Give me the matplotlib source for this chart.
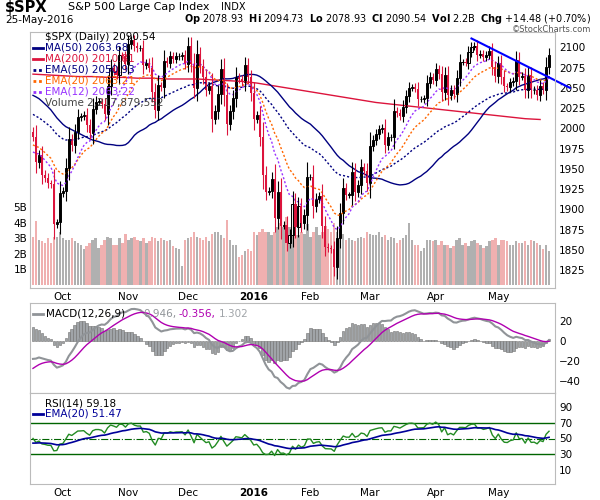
import numpy as np
import matplotlib
matplotlib.use("Agg")
import matplotlib.pyplot as plt

# warm-up closes (Jul 1 - Sep 16 2015), used only to seed the averages
warmup = [2077, 2077, 2068, 2082, 2047, 2052, 2077, 2100, 2109, 2107, 2124, 2127, 2129, 2120, 2115, 2102, 2080,
          2068, 2093, 2109, 2109, 2104,
          2098, 2094, 2100, 2084, 2078, 2104, 2084, 2086, 2083, 2092, 2102, 2096, 2080, 2036, 1971, 1893, 1868,
          1940, 1988, 1989, 1972,
          1914, 1948, 1951, 1921, 1970, 1942, 1952, 1961, 1953, 1979, 1996]

# visible closes, Sep 17 2015 - May 25 2016
closes = [1990, 1958, 1967, 1943, 1939, 1932, 1931, 1882, 1884, 1920,
          1923, 1951, 1987, 1979, 1996, 2014, 2015, 2017, 2004, 1994, 2024, 2033, 2033, 2030, 2018, 2052, 2075,
          2071, 2066, 2090, 2089, 2079,
          2104, 2109, 2102, 2099, 2099, 2078, 2081, 2075, 2045, 2023, 2053, 2051, 2083, 2081, 2089, 2086, 2089,
          2089, 2090, 2080,
          2102, 2080, 2050, 2092, 2077, 2063, 2048, 2052, 2012, 2022, 2043, 2073, 2041, 2006, 2021, 2038, 2064,
          2061, 2057, 2078, 2063, 2044,
          2012, 2016, 1990, 1943, 1922, 1923, 1938, 1890, 1922, 1880, 1881, 1859, 1869, 1907, 1878, 1904, 1883,
          1893, 1940,
          1940, 1904, 1913, 1916, 1880, 1854, 1852, 1851, 1829, 1865, 1895, 1926, 1918, 1918, 1946, 1922, 1930,
          1952, 1948, 1932,
          1978, 1986, 1993, 1999, 2001, 1980, 1989, 1989, 2022, 2019, 2015, 2027, 2040, 2050, 2051, 2049, 2036,
          2036, 2037, 2056, 2063, 2060,
          2073, 2067, 2045, 2066, 2041, 2048, 2042, 2062, 2082, 2082, 2081, 2094, 2101, 2102, 2091, 2092, 2088,
          2091, 2096, 2076, 2065,
          2081, 2064, 2052, 2051, 2057, 2059, 2084, 2064, 2065, 2047, 2066, 2047, 2048, 2041, 2052, 2048, 2076,
          2090.54]

# daily volume, billions
volume = [3.1, 4.1, 2.9, 2.8, 2.7, 3.0, 2.7, 3.1, 3.1, 3.4,
          3.0, 2.9, 2.9, 3.0, 2.8, 2.7, 2.6, 2.3, 2.5, 2.7, 2.9, 3.0, 2.4, 2.6, 2.9, 3.1, 3.0,
          2.6, 2.6, 3.0, 2.7, 3.3,
          2.9, 3.0, 3.1, 2.9, 2.8, 3.0, 2.7, 2.8, 3.1, 3.0, 2.8, 3.0, 2.9, 2.8, 2.9, 2.5, 2.4,
          2.3, 1.2, 2.9,
          3.0, 3.1, 3.4, 3.1, 3.0, 2.9, 3.1, 2.8, 3.3, 3.4, 3.4, 3.2, 3.0, 4.2, 2.9, 2.6, 2.6,
          1.8, 1.9, 2.2, 2.3, 2.2,
          3.4, 3.2, 3.4, 3.6, 3.4, 3.4, 3.2, 3.4, 3.7, 4.0, 3.7, 4.4, 3.7, 3.5, 3.2, 3.2, 3.4,
          3.3, 3.9,
          3.1, 3.4, 3.7, 3.2, 3.4, 3.8, 3.6, 3.4, 4.0, 3.4, 3.2, 3.3, 2.9, 3.0, 2.9, 2.8, 3.0,
          3.1, 3.0, 3.4,
          3.3, 3.2, 3.2, 3.4, 3.1, 3.2, 2.9, 3.1, 3.0, 2.7, 2.9, 3.0, 3.2, 4.0, 2.9, 2.6, 2.6,
          2.2, 2.4, 2.9, 2.9, 2.8,
          2.9, 2.6, 2.8, 2.6, 2.6, 2.4, 2.5, 2.9, 3.0, 2.6, 2.7, 2.5, 2.8, 2.9, 2.7, 2.6, 2.4,
          2.5, 2.8, 2.9, 3.0,
          2.6, 2.9, 2.9, 2.8, 2.6, 2.6, 2.8, 2.7, 2.7, 2.8, 2.6, 2.9, 2.8, 2.7, 2.6, 2.3, 2.6,
          2.2]

# MA(200), one reading per week (every 5th session)
ma200_weekly = [2067, 2066, 2065, 2064, 2064, 2063, 2063, 2062, 2062, 2061, 2061, 2061, 2060, 2059,
                2058, 2056, 2053, 2050, 2047, 2044, 2041, 2038, 2035, 2032, 2030, 2028, 2026, 2024,
                2022, 2020, 2018, 2016, 2014, 2012, 2011]

month_names = ["Oct", "Nov", "Dec", "2016", "Feb", "Mar", "Apr", "May"]
month_starts = [10, 32, 52, 74, 93, 113, 135, 156]

trend_start = 135 + 12  # Apr 20 high
trend_vals = [2111, 2063]


def ema(x, n):
    a = 2.0 / (n + 1)
    out = np.empty(len(x))
    out[0] = x[0]
    for i in range(1, len(x)):
        out[i] = a * x[i] + (1 - a) * out[i - 1]
    return out


allc = np.array(warmup + closes, dtype=float)
w = len(warmup)
n = len(closes)
x = np.arange(n)
c = np.array(closes, dtype=float)
o = allc[w - 1:-1]

ma50 = np.array([allc[i - 49:i + 1].mean() for i in range(w, w + n)])
ema50 = ema(allc, 50)[w:]
ema20 = ema(allc, 20)[w:]
ema12 = ema(allc, 12)[w:]
macd_full = ema(allc, 12) - ema(allc, 26)
sig_full = ema(macd_full, 9)
macd = macd_full[w:]
sig = sig_full[w:]
hist = macd - sig

d = np.diff(allc)
up = np.where(d > 0, d, 0)
dn = np.where(d < 0, -d, 0)
au = up[:14].mean()
ad = dn[:14].mean()
rsi_full = []
for i in range(14, len(d)):
    au = (au * 13 + up[i]) / 14
    ad = (ad * 13 + dn[i]) / 14
    rsi_full.append(100 - 100 / (1 + au / ad))
rsi_full = np.array(rsi_full)
rsi_ema = ema(rsi_full, 20)
rsi = rsi_full[-n:]
rsi_e = rsi_ema[-n:]

fig = plt.figure(figsize=(6, 5), dpi=100)
L, R = 30 / 600, 555 / 600
ax = fig.add_axes([L, 1 - 288 / 500, R - L, 256 / 500])
axm = fig.add_axes([L, 1 - 393 / 500, R - L, 90 / 500])
axr = fig.add_axes([L, 1 - 484 / 500, R - L, 91 / 500])

# volume
axv = ax.twinx()
axv.set_xlim(-1, n + 1)
axv.set_ylim(-0.2, 16.3)
vcol = ["#f0b0b0" if c[i] < o[i] else "#b0b0b0" for i in range(n)]
axv.bar(x, volume, width=0.8, color=vcol, zorder=0)
axv.yaxis.tick_left()
axv.set_yticks([1, 2, 3, 4, 5])
axv.set_yticklabels(["1B", "2B", "3B", "4B", "5B"])
axv.tick_params(labelsize=7.5, length=0, pad=2)
for s in axv.spines.values():
    s.set_visible(False)
ax.set_zorder(axv.get_zorder() + 1)
ax.patch.set_visible(False)

for a in (ax, axm, axr):
    a.set_xlim(-1, n + 1)
    for s in a.spines.values():
        s.set_color("#bbbbbb")
    a.yaxis.tick_right()
    a.tick_params(labelsize=7.5, length=0, pad=3)
    a.set_xticks(month_starts)
    a.set_xticklabels(month_names)
    for lab in a.get_xticklabels():
        if lab.get_text() == "2016":
            lab.set_fontweight("bold")

ax.set_ylim(1803, 2119)
ax.set_yticks(np.arange(1825, 2101, 25))
ax.plot(np.arange(0, 5 * len(ma200_weekly), 5)[:len(ma200_weekly)], ma200_weekly, color="#dc143c", lw=1)
ax.plot(x, ma50, color="#000080", lw=1)
ax.plot(x, ema50, color="#000080", lw=1, ls=(0, (1.5, 1.5)))
ax.plot(x, ema20, color="#ff6600", lw=1, ls=(0, (1.5, 1.5)))
ax.plot(x, ema12, color="#9933ff", lw=1, ls=(0, (1.5, 1.5)))
for i in range(n):
    lo, hi = min(o[i], c[i]), max(o[i], c[i])
    rng = hi - lo
    col = "black" if c[i] >= o[i] else "#dc143c"
    ax.vlines(x[i], lo - 0.3 * rng - 4, hi + 0.3 * rng + 4, color=col, lw=0.8)
    if c[i] >= o[i]:
        ax.bar(x[i], max(rng, 0.5), bottom=lo, width=0.7, facecolor="white", edgecolor="black", lw=0.7)
    else:
        ax.bar(x[i], max(rng, 0.5), bottom=lo, width=0.7, color="#dc143c")
tx = np.array([trend_start, n + 6])
slope = (trend_vals[1] - trend_vals[0]) / (n - 1 - trend_start)
ax.plot(tx, trend_vals[0] + slope * (tx - trend_start), color="#0000ff", lw=1.5, clip_on=False)

leg = [("$SPX (Daily) 2090.54", "black"), ("MA(50) 2063.68", "#000080"), ("MA(200) 2010.81", "#dc143c"),
       ("EMA(50) 2050.93", "#000080"), ("EMA(20) 2063.21", "#ff6600"), ("EMA(12) 2063.22", "#9933ff"),
       ("Volume 2,217,879,552", "#444444")]
dy = 0.043
for k, (t, col) in enumerate(leg):
    yy = 0.982 - k * dy
    ax.text(0.028, yy, t, color=col, fontsize=7.5, transform=ax.transAxes, va="center")
    if k in (1, 2):
        ax.plot([0.006, 0.024], [yy] * 2, color=col, lw=2, transform=ax.transAxes)
    elif k in (3, 4, 5):
        ax.plot([0.006, 0.024], [yy] * 2, color=col, lw=2, ls=(0, (1, 1)), transform=ax.transAxes)

# MACD
axm.set_ylim(-52, 38)
axm.set_yticks([-40, -20, 0, 20])
axm.bar(x, hist * 1.5, width=0.85, color="#a0a4a8", edgecolor="#707070", lw=0.4)
axm.plot(x, macd, color="#909498", lw=1.5)
axm.plot(x, sig, color="#b000b0", lw=1)
axm.plot([0.006, 0.024], [0.88, 0.88], color="#909498", lw=2, transform=axm.transAxes)
axm.text(0.03, 0.88, "MACD(12,26,9)", color="black", fontsize=7.5, transform=axm.transAxes, va="center")
axm.text(0.215, 0.88, "0.946,", color="#909498", fontsize=7.5, transform=axm.transAxes, va="center")
axm.text(0.282, 0.88, "-0.356,", color="#b000b0", fontsize=7.5, transform=axm.transAxes, va="center")
axm.text(0.36, 0.88, "1.302", color="#a0a4a8", fontsize=7.5, transform=axm.transAxes, va="center")
axm.set_xticklabels([])

# RSI
axr.set_ylim(-8, 108)
axr.set_yticks([10, 30, 50, 70, 90])
axr.axhline(70, color="#006400", lw=1)
axr.axhline(30, color="#006400", lw=1)
axr.axhline(50, color="#006400", lw=0.8, ls="-.")
axr.plot(x, rsi, color="#228b22", lw=1)
axr.plot(x, rsi_e, color="#000099", lw=1.2)
axr.text(0.028, 0.89, "RSI(14) 59.18", fontsize=7.5, transform=axr.transAxes, va="center")
axr.text(0.028, 0.77, "EMA(20) 51.47", color="#000099", fontsize=7.5, transform=axr.transAxes, va="center")
axr.plot([0.006, 0.024], [0.77, 0.77], color="#000099", lw=2, transform=axr.transAxes)

fig.text(0.008, 0.985, "$SPX", fontsize=10.5, fontweight="bold", va="center")
fig.text(0.113, 0.985, "S&P 500 Large Cap Index", fontsize=8, va="center")
fig.text(0.368, 0.985, "INDX", fontsize=7, va="center")
fig.text(0.008, 0.96, "25-May-2016", fontsize=7.5, va="center")
fig.text(0.985, 0.962, r"$\bf{Op}$ 2078.93  $\bf{Hi}$ 2094.73  $\bf{Lo}$ 2078.93  $\bf{Cl}$ 2090.54  "
         r"$\bf{Vol}$ 2.2B  $\bf{Chg}$ +14.48 (+0.70%)", fontsize=7, va="center", ha="right")
fig.text(0.985, 0.941, "©StockCharts.com", fontsize=6, va="center", ha="right", color="#555555")

fig.savefig("out.png", dpi=100)
